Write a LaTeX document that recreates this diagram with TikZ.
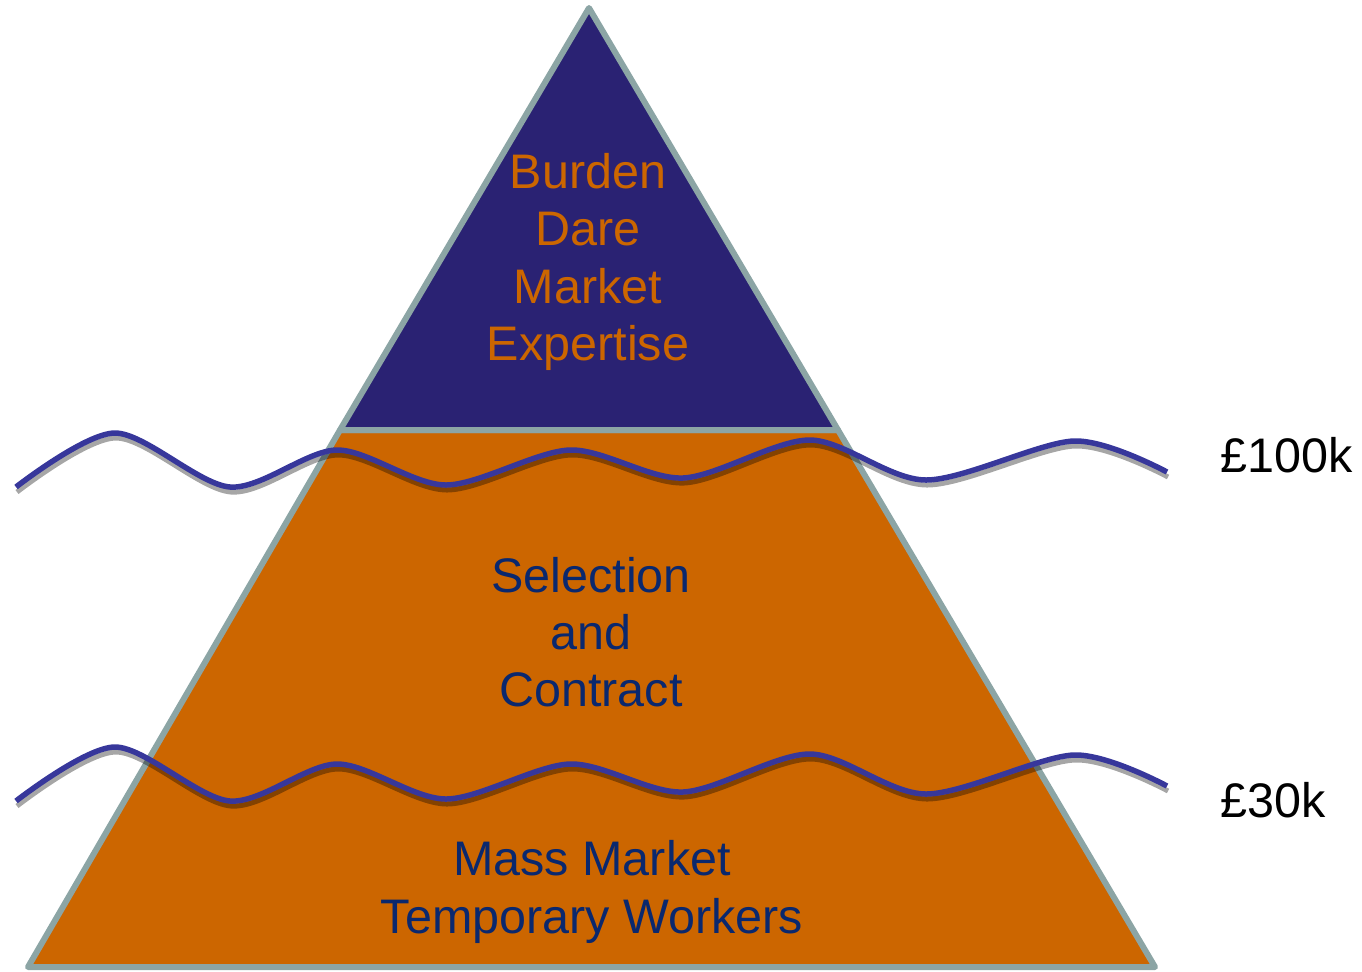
\documentclass[tikz,border=0pt]{standalone}
\usepackage{fontspec}
\setmainfont{Liberation Sans}
\usetikzlibrary{positioning}
\definecolor{orangefill}{RGB}{204, 102, 0}
\definecolor{navyfill}{RGB}{42, 34, 115}
\definecolor{edgegrey}{RGB}{140, 165, 165}
\definecolor{wavecol}{RGB}{55, 55, 155}
\definecolor{textnavy}{RGB}{10, 40, 110}

\begin{document}
\begin{tikzpicture}[x=0.1mm, y=-0.1mm,
    layer/.style={draw=edgegrey, line width=0.6mm, line join=round},
    label/.style={font=\fontsize{13.8}{16.3}\selectfont, align=center, inner sep=0pt},
    wave/.style={draw=wavecol, line width=0.55mm},
    waveshadow/.style={draw=black, opacity=0.35, line width=0.5mm}]
    % khung trang
    \useasboundingbox (0,0) rectangle (1362,971);

    % cac dinh cua kim tu thap
    \coordinate (top) at (589,8);
    \coordinate (bl) at (28,967);
    \coordinate (br) at (1155,967);
    \coordinate (ml) at (340,430);
    \coordinate (mr) at (838,430);

    % phan duoi, to mau cam
    \draw[layer, fill=orangefill] (bl) -- (ml) -- (mr) -- (br) -- cycle;
    % dinh, to mau xanh tham
    \draw[layer, fill=navyfill] (top) -- (ml) -- (mr) -- cycle;

    % chu trong tung tang
    \node[label, text=orangefill] (tip) at (588,262) {Burden\\Dare\\Market\\Expertise};
    \node[label, text=textnavy] (middle) at (591,632) {Selection\\and\\Contract};
    \node[label, text=textnavy] (base) at (592,892) {Mass Market\\Temporary Workers};

    % muc luong ben phai
    \node[label, anchor=base west] (high) at (1220,472) {£100k};
    \node[label, anchor=base west] (low) at (1220,817) {£30k};

    % hai duong song, co bong phia duoi
    \foreach \dy in {0,314} {
      \draw[waveshadow, shift={(1,\dy+5)}] plot[smooth] coordinates {(16,487) (115,433) (230,487) (337,450) (446,485) (570,450) (683,478) (810,440) (926,480) (1074,441) (1167,472)};
      \draw[wave, shift={(0,\dy)}] plot[smooth] coordinates {(16,487) (115,433) (230,487) (337,450) (446,485) (570,450) (683,478) (810,440) (926,480) (1074,441) (1167,472)};
    }
\end{tikzpicture}
\end{document}
